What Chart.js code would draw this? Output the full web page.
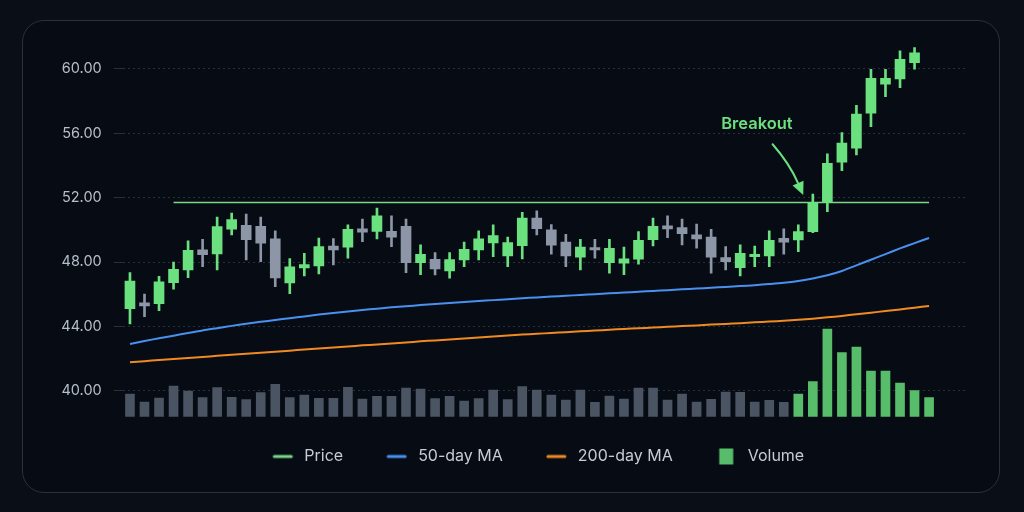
<!DOCTYPE html>
<html>
<head>
<meta charset="utf-8">
<script src="https://cdn.jsdelivr.net/npm/chart.js@4.4.1/dist/chart.umd.min.js"></script>
<style>
  html, body { margin: 0; padding: 0; width: 1024px; height: 512px; overflow: hidden; background: #0a0e17; }
  #card { position: absolute; left: 22px; top: 20px; width: 978px; height: 473px; box-sizing: border-box;
          border: 1px solid #2a313d; border-radius: 22px; background: #070b14; }
  #c { position: absolute; left: 0; top: 0; }
</style>
</head>
<body>
<div id="card"></div>
<canvas id="c" width="1024" height="512"></canvas>
<script>
// ---------------- DATA ----------------
const dayLabels = ['1','2','3','4','5','6','7','8','9','10','11','12','13','14','15','16','17','18','19','20',
  '21','22','23','24','25','26','27','28','29','30','31','32','33','34','35','36','37','38','39','40',
  '41','42','43','44','45','46','47','48','49','50','51','52','53','54','55','56','57','58'];

const openPrices  = [45.11,45.47,45.42,46.73,47.52,48.76,48.51,50.04,50.29,50.23,49.44,46.71,47.64,47.76,49.00,
  48.93,50.06,49.90,49.91,50.23,47.97,48.18,47.45,48.14,48.76,49.19,48.39,49.02,50.73,50.00,
  49.24,48.30,48.90,47.97,47.93,48.18,49.40,50.25,50.14,49.69,49.55,48.28,47.66,48.34,48.39,
  49.48,49.38,49.89,51.72,54.20,55.07,57.25,59.05,59.38,60.39];
const highPrices  = [47.35,46.02,47.12,48.01,49.32,49.42,50.79,51.04,50.99,50.79,49.94,48.22,48.55,49.50,49.46,
  50.31,50.68,51.35,50.87,50.68,49.07,48.59,48.59,49.25,49.94,50.31,49.55,51.10,51.18,50.33,
  49.73,49.42,49.42,49.42,48.93,49.89,50.73,50.87,50.68,50.37,50.04,48.96,49.07,49.00,49.94,
  50.06,50.31,52.22,54.72,56.04,57.74,59.98,59.98,61.12,61.32];
const lowPrices   = [44.16,44.61,44.99,46.32,47.04,47.72,47.52,49.69,48.14,48.03,46.48,46.04,47.14,47.27,47.83,
  48.24,49.27,49.44,48.96,47.35,47.22,47.20,47.00,47.72,48.14,48.34,47.72,48.20,49.69,48.49,
  47.72,47.52,48.24,47.31,47.22,47.87,49.00,49.52,49.07,48.86,47.31,47.52,47.14,47.72,47.72,
  48.49,48.65,49.83,51.14,53.68,54.66,56.42,58.28,58.84,59.98];
const closePrices = [46.83,45.28,46.77,47.56,48.74,48.47,50.20,50.64,49.40,49.17,47.02,47.70,47.84,48.96,48.76,
  50.04,49.86,50.87,49.55,47.97,48.49,47.58,48.16,48.80,49.44,49.65,49.21,50.73,50.08,49.05,
  48.39,48.93,48.76,48.86,48.20,49.36,50.23,50.06,49.77,49.44,48.30,48.03,48.55,48.49,49.36,
  49.24,49.89,51.72,54.14,55.40,57.20,59.42,59.42,60.60,61.00];

const ma50  = [42.92,43.10,43.27,43.43,43.60,43.76,43.90,44.04,44.17,44.29,44.41,44.52,44.63,44.74,44.84,
  44.94,45.03,45.11,45.19,45.26,45.33,45.40,45.46,45.52,45.58,45.64,45.70,45.76,45.81,45.86,
  45.91,45.96,46.01,46.06,46.11,46.16,46.21,46.26,46.31,46.36,46.41,46.46,46.51,46.57,46.64,
  46.72,46.83,46.98,47.18,47.45,47.80,48.15,48.50,48.85,49.18,49.50];
const ma200 = [41.78,41.85,41.92,41.98,42.05,42.11,42.18,42.24,42.31,42.37,42.44,42.50,42.57,42.63,42.70,
  42.76,42.83,42.89,42.95,43.01,43.08,43.14,43.20,43.26,43.32,43.38,43.44,43.50,43.55,43.60,
  43.65,43.70,43.75,43.80,43.85,43.89,43.94,43.98,44.03,44.07,44.12,44.16,44.21,44.26,44.31,
  44.36,44.42,44.49,44.57,44.66,44.76,44.86,44.96,45.06,45.17,45.28];

// volume in millions of shares
const volume = [1.13,0.73,0.93,1.53,1.28,0.95,1.45,0.97,0.85,1.20,1.62,0.95,1.08,0.92,0.92,
  1.47,0.88,1.02,1.02,1.43,1.38,0.90,1.02,0.78,0.90,1.33,0.85,1.51,1.33,1.08,
  0.83,1.33,0.72,1.03,0.88,1.43,1.43,0.83,1.13,0.73,0.87,1.23,1.22,0.73,0.82,
  0.72,1.13,1.75,4.38,3.20,3.48,2.28,2.28,1.68,1.30,0.95];
const breakoutStart = 46;          // first breakout session

const resistanceLevel = 51.7;
const resistanceSpan = ['4', '56'];  // first / last day of the resistance line

const priceTicks = [40, 44, 48, 52, 56, 60];

const breakoutNote = { text: 'Breakout', label: [43.15, 56.58], from: [44.23, 55.32], to: [46.34, 52.17] };

// ---------------- STYLE ----------------
const GREEN = '#6be07f';
const GRAY = '#8c96a6';
const VOL_GREEN = '#58bd6b';
const VOL_GRAY = '#4a5463';
const BLUE = '#4a90ee';
const ORANGE = '#f08a22';
const LINE_GREEN = '#7ad887';
const TEXT = '#c5ccd6';

Chart.defaults.font.family = "Inter, 'Noto Sans', sans-serif";

const candleColors = openPrices.map((o, i) => closePrices[i] >= o ? GREEN : GRAY);
const volumeColors = volume.map((v, i) => i >= breakoutStart ? VOL_GREEN : VOL_GRAY);

const LEG_W = 57;
function legendIcon(kind, color) {
  const c = document.createElement('canvas');
  c.width = LEG_W; c.height = 18;
  const g = c.getContext('2d');
  const cx = LEG_W - 13.5;
  if (kind === 'line') {
    g.strokeStyle = color; g.lineWidth = 3; g.lineCap = 'round';
    g.beginPath(); g.moveTo(cx - 8.5, 9); g.lineTo(cx + 8.5, 9); g.stroke();
  } else {
    g.fillStyle = color; g.fillRect(cx - 7, 1, 14, 16);
  }
  return c;
}
const legendEntries = [
  { text: 'Price', kind: 'line', color: LINE_GREEN },
  { text: '50-day MA', kind: 'line', color: BLUE },
  { text: '200-day MA', kind: 'line', color: ORANGE },
  { text: 'Volume', kind: 'box', color: VOL_GREEN }
];

const annotationPlugin = {
  id: 'breakoutNote',
  afterDatasetsDraw(chart) {
    const { ctx, scales: { x, y } } = chart;
    const px = p => ({ x: x.getPixelForValue(p[0]), y: y.getPixelForValue(p[1]) });
    const t = px(breakoutNote.label), a = px(breakoutNote.from), b = px(breakoutNote.to);
    ctx.save();
    ctx.fillStyle = GREEN;
    ctx.font = "600 16.5px Inter, 'Noto Sans', sans-serif";
    ctx.textAlign = 'center';
    ctx.textBaseline = 'middle';
    ctx.fillText(breakoutNote.text, t.x, t.y);
    const c = { x: a.x + 0.55 * (b.x - a.x), y: a.y + 0.38 * (b.y - a.y) };
    let ux = b.x - c.x, uy = b.y - c.y;
    const len = Math.hypot(ux, uy); ux /= len; uy /= len;
    const head = 13, half = 6;
    const base = { x: b.x - ux * head, y: b.y - uy * head };
    ctx.strokeStyle = GREEN; ctx.lineWidth = 2; ctx.lineCap = 'round';
    ctx.beginPath(); ctx.moveTo(a.x, a.y); ctx.quadraticCurveTo(c.x, c.y, base.x, base.y); ctx.stroke();
    ctx.beginPath();
    ctx.moveTo(b.x, b.y);
    ctx.lineTo(base.x - uy * half, base.y + ux * half);
    ctx.lineTo(base.x + uy * half, base.y - ux * half);
    ctx.closePath(); ctx.fill();
    ctx.restore();
  }
};

new Chart(document.getElementById('c'), {
  type: 'bar',
  data: {
    labels: dayLabels,
    datasets: [
      { label: 'Price body', data: openPrices.map((o, i) => [o, closePrices[i]]), backgroundColor: candleColors,
        barThickness: 10, grouped: false, order: 0, yAxisID: 'y', borderWidth: 0 },
      { label: 'Price wick', data: lowPrices.map((l, i) => [l, highPrices[i]]), backgroundColor: candleColors,
        barThickness: 2, grouped: false, order: 1, yAxisID: 'y', borderWidth: 0 },
      { type: 'line', label: 'Resistance', data: [{ x: resistanceSpan[0], y: resistanceLevel }, { x: resistanceSpan[1], y: resistanceLevel }],
        borderColor: LINE_GREEN, borderWidth: 1.6, pointRadius: 0, order: 2, yAxisID: 'y' },
      { type: 'line', label: '50-day MA', data: ma50, borderColor: BLUE, borderWidth: 2, pointRadius: 0, tension: 0.3, order: 2, yAxisID: 'y' },
      { type: 'line', label: '200-day MA', data: ma200, borderColor: ORANGE, borderWidth: 2, pointRadius: 0, tension: 0.3, order: 2, yAxisID: 'y' },
      { label: 'Volume', data: volume, backgroundColor: volumeColors, barThickness: 9, grouped: false, order: 3, yAxisID: 'y2', borderWidth: 0 }
    ]
  },
  options: {
    responsive: false,
    animation: false,
    devicePixelRatio: 1,
    layout: { padding: { left: 61.7, right: 42.2, top: 36.7, bottom: 37.5 } },
    scales: {
      x: {
        display: true, offset: true,
        ticks: { display: false }, grid: { display: false }, border: { display: false },
        afterFit: s => { s.height = 21.8; }
      },
      y: {
        position: 'left', min: 38.4, max: 62,
        afterBuildTicks: s => { s.ticks = priceTicks.map(v => ({ value: v })); },
        afterFit: s => { s.width = 61; },
        ticks: { color: '#b6beca', font: { size: 14.5 }, padding: 12, callback: v => Number(v).toFixed(2) },
        grid: { color: 'rgba(120,135,160,0.30)', lineWidth: 1, drawTicks: true, tickLength: 9 },
        border: { display: false, dash: [2, 3] }
      },
      y2: {
        position: 'right', min: 0, max: 19,
        ticks: { display: false }, grid: { display: false }, border: { display: false },
        afterFit: s => { s.width = 16.4; }
      }
    },
    plugins: {
      tooltip: { enabled: false },
      legend: {
        position: 'bottom',
        labels: {
          usePointStyle: true, pointStyleWidth: LEG_W, padding: 10,
          color: TEXT, font: { size: 16 },
          generateLabels: () => legendEntries.map(e => ({
            text: e.text, pointStyle: legendIcon(e.kind, e.color), fillStyle: e.color,
            strokeStyle: 'rgba(0,0,0,0)', lineWidth: 0, fontColor: TEXT, hidden: false
          }))
        }
      }
    }
  },
  plugins: [annotationPlugin]
});
</script>
</body>
</html>
